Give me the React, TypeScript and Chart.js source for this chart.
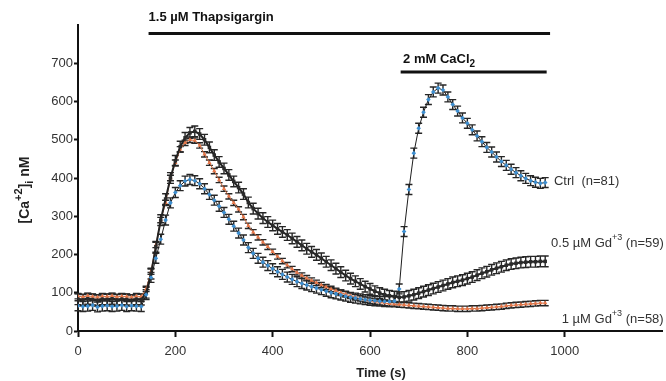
import React, { useEffect, useRef } from 'react';
import { Chart, registerables } from 'chart.js';
Chart.register(...registerables);

const times = [0,10,20,30,40,50,60,70,80,90,100,110,120,130,140,150,160,170,180,190,200,210,220,230,240,250,260,270,280,290,300,310,320,330,340,350,360,370,380,390,400,410,420,430,440,450,460,470,480,490,500,510,520,530,540,550,560,570,580,590,600,610,620,630,640,650,660,670,680,690,700,710,720,730,740,750,760,770,780,790,800,810,820,830,840,850,860,870,880,890,900,910,920,930,940,950,960];

const ctrl = [66,64,65,67,63,65,66,64,65,67,64,66,65,64,
  95,140,190,240,290,335,362,380,392,396,393,385,
  372,357,342,326,310,292,274,256,238,218,203,
  190,180,171,163,155,148,141,135,129,124,
  120,116,112,108,104,100,97,94,91,88,
  86,84,82,80,79,78,77,77,78,110,
  260,370,465,530,572,605,625,635,630,612,
  592,575,557,543,526,510,495,480,468,455,
  443,433,423,414,406,399,393,389,386,388];

const gd05 = [83,81,84,82,80,83,82,84,81,83,82,80,83,82,
  100,150,220,290,345,400,445,482,505,518,522,515,
  500,480,460,442,425,408,391,375,358,336,320,
  307,295,285,276,267,259,251,242,233,224,
  215,207,199,190,181,172,163,154,145,137,
  130,123,116,110,104,99,95,92,90,88,
  89,92,95,99,103,107,111,115,119,123,
  127,130,133,137,141,146,151,155,160,164,
  168,172,175,177,179,180,181,181,182,182];

const gd1 = [91,89,92,90,88,91,90,92,89,91,90,88,91,90,
  110,155,225,290,335,400,440,475,492,500,498,485,
  462,440,418,395,372,352,335,318,298,275,258,
  245,232,220,207,195,183,172,162,153,145,
  138,132,126,120,115,110,105,100,96,92,
  88,85,82,79,77,75,73,71,70,69,
  68,67,66,65,64,63,62,61,60,59,
  59,58,58,58,59,59,60,61,62,63,
  64,66,67,68,69,70,71,72,73,73];

const sems = [13, 14, 7];
const seriesNames = ['Ctrl  (n=81)', '0.5 \u00B5M Gd+3 (n=59)', '1 \u00B5M Gd+3 (n=58)'];

const FONT = '"Liberation Sans", Arial, sans-serif';

type Seg = { t: string; dy?: number; size?: number };

function drawSegs(ctx: CanvasRenderingContext2D, segs: Seg[], x: number, y: number, weight: string, baseSize: number, color: string) {
  let cx = x;
  ctx.fillStyle = color;
  ctx.textBaseline = 'middle';
  ctx.textAlign = 'left';
  for (const s of segs) {
    const size = s.size ?? baseSize;
    ctx.font = `${weight} ${size}px ${FONT}`;
    ctx.fillText(s.t, cx, y + (s.dy ?? 0));
    cx += ctx.measureText(s.t).width;
  }
  return cx - x;
}

const annotPlugin = {
  id: 'annot',
  beforeDatasetsDraw(chart: any) {
    const ctx = chart.ctx as CanvasRenderingContext2D;
    const ys = chart.scales.y;
    chart.data.datasets.forEach((ds: any, i: number) => {
      const meta = chart.getDatasetMeta(i);
      const sem = sems[i];
      ctx.save();
      ctx.strokeStyle = '#262626';
      ctx.lineWidth = 1.4;
      ctx.beginPath();
      meta.data.forEach((pt: any, j: number) => {
        const v = ds.data[j].y;
        const yt = ys.getPixelForValue(v + sem);
        const yb = ys.getPixelForValue(v - sem);
        ctx.moveTo(pt.x, yt); ctx.lineTo(pt.x, yb);
        ctx.moveTo(pt.x - 3.5, yt); ctx.lineTo(pt.x + 3.5, yt);
        ctx.moveTo(pt.x - 3.5, yb); ctx.lineTo(pt.x + 3.5, yb);
      });
      ctx.stroke();
      ctx.restore();
    });
  },
  afterDraw(chart: any) {
    const ctx = chart.ctx as CanvasRenderingContext2D;
    const xs = chart.scales.x;
    const ys = chart.scales.y;
    const ca = chart.chartArea;
    ctx.save();
    ctx.strokeStyle = '#111';
    ctx.lineWidth = 3;
    ctx.beginPath();
    ctx.moveTo(xs.getPixelForValue(145), ys.getPixelForValue(778));
    ctx.lineTo(xs.getPixelForValue(970), ys.getPixelForValue(778));
    ctx.moveTo(xs.getPixelForValue(663), ys.getPixelForValue(677));
    ctx.lineTo(xs.getPixelForValue(963), ys.getPixelForValue(677));
    ctx.stroke();
    drawSegs(ctx, [{ t: '1.5 \u00B5M Thapsigargin' }], xs.getPixelForValue(145), ys.getPixelForValue(778) - 16, 'bold', 13, '#111');
    drawSegs(ctx, [{ t: '2 mM CaCl' }, { t: '2', dy: 5, size: 10 }], xs.getPixelForValue(668), ys.getPixelForValue(677) - 13, 'bold', 13, '#111');
    const col = '#333';
    drawSegs(ctx, [{ t: seriesNames[0] }], xs.getPixelForValue(978), ys.getPixelForValue(392), 'normal', 13, col);
    drawSegs(ctx, [{ t: '0.5 \u00B5M Gd' }, { t: '+3', dy: -6, size: 9 }, { t: ' (n=59)' }], xs.getPixelForValue(972), ys.getPixelForValue(230), 'normal', 13, col);
    drawSegs(ctx, [{ t: '1 \u00B5M Gd' }, { t: '+3', dy: -6, size: 9 }, { t: ' (n=58)' }], xs.getPixelForValue(994), ys.getPixelForValue(29), 'normal', 13, col);
    ctx.font = `bold 13px ${FONT}`;
    ctx.fillStyle = '#222';
    ctx.textAlign = 'center';
    ctx.textBaseline = 'middle';
    ctx.fillText('Time (s)', (ca.left + ca.right) / 2 + 11, 373);
    ctx.translate(25, 190);
    ctx.rotate(-Math.PI / 2);
    const segs: Seg[] = [{ t: '[Ca' }, { t: '+2', dy: -6, size: 11 }, { t: ']' }, { t: 'i', dy: 5, size: 11 }, { t: ' nM' }];
    let w = 0;
    for (const s of segs) { ctx.font = `bold ${s.size ?? 14}px ${FONT}`; w += ctx.measureText(s.t).width; }
    drawSegs(ctx, segs, -w / 2, 0, 'bold', 14, '#222');
    ctx.restore();
  },
};

export default function App() {
  const ref = useRef<HTMLCanvasElement>(null);
  useEffect(() => {
    document.body.style.margin = '0';
    const mk = (arr: number[]) => times.map((t, i) => ({ x: t, y: arr[i] }));
    const chart = new Chart(ref.current!, {
      type: 'line',
      data: {
        datasets: [
          { label: seriesNames[0], data: mk(ctrl), borderColor: '#1e1e1e', borderWidth: 1, pointStyle: 'rectRot', pointRadius: 2.3, pointBackgroundColor: '#3d8fd1', pointBorderColor: '#3d8fd1', pointBorderWidth: 0 },
          { label: seriesNames[1], data: mk(gd05), borderColor: '#222', borderWidth: 2, pointStyle: 'rect', pointRadius: 2.5, pointBackgroundColor: '#2a2a2a', pointBorderColor: '#2a2a2a', pointBorderWidth: 0 },
          { label: seriesNames[2], data: mk(gd1), borderColor: '#c8693f', borderWidth: 1, pointStyle: 'triangle', pointRadius: 2.5, pointBackgroundColor: '#e8784a', pointBorderColor: '#e8784a', pointBorderWidth: 0 },
        ],
      },
      options: {
        animation: false,
        responsive: true,
        maintainAspectRatio: false,
        layout: { padding: { top: 25, right: 2, left: 0, bottom: 0 } },
        plugins: { legend: { display: false }, tooltip: { enabled: false } },
        scales: {
          x: {
            type: 'linear', min: 0, max: 1200,
            ticks: { stepSize: 200, color: '#333', font: { family: FONT, size: 13 }, padding: 7, maxRotation: 0, callback: (v: any) => String(v) },
            grid: { drawOnChartArea: false, drawTicks: true, tickLength: 6, color: '#111', tickWidth: 2 },
            border: { display: true, color: '#111', width: 2 },
            afterBuildTicks: (axis: any) => { axis.ticks = axis.ticks.filter((t: any) => t.value <= 1000); },
            afterFit: (axis: any) => { axis.height = 50; },
          },
          y: {
            type: 'linear', min: 0, max: 800,
            ticks: { stepSize: 100, color: '#333', font: { family: FONT, size: 13 }, padding: 1, callback: (v: any) => String(v) },
            grid: { drawOnChartArea: false, drawTicks: true, tickLength: 4, color: '#111', tickWidth: 2 },
            border: { display: true, color: '#111', width: 2 },
            afterBuildTicks: (axis: any) => { axis.ticks = axis.ticks.filter((t: any) => t.value <= 700); },
            afterFit: (axis: any) => { axis.width = 78; },
          },
        },
      },
      plugins: [annotPlugin],
    });
    return () => chart.destroy();
  }, []);
  return (
    <div style={{ position: 'relative', width: 666, height: 381, background: '#fff' }}>
      <canvas ref={ref} />
    </div>
  );
}
